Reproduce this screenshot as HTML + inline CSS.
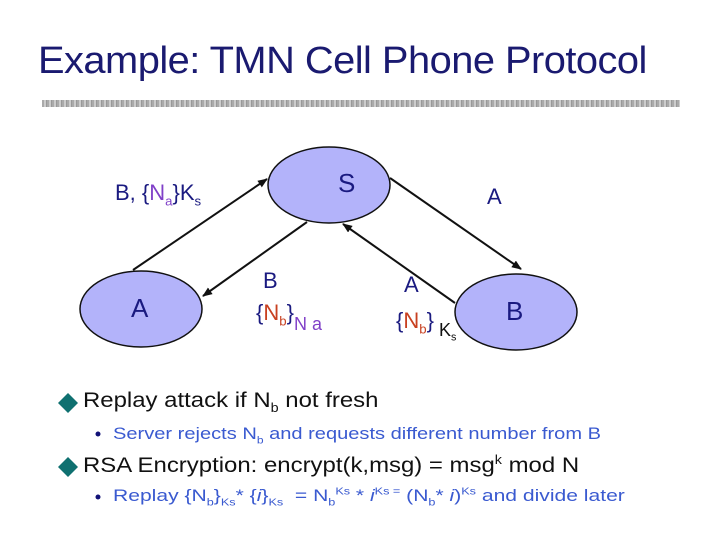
<!DOCTYPE html>
<html><head><meta charset="utf-8"><style>
body{margin:0;width:720px;height:540px;background:#fff;overflow:hidden;position:relative;font-family:"Liberation Sans",sans-serif}
.t{position:absolute;white-space:nowrap;transform-origin:0 0}
sub,sup{font-size:60%}
</style></head><body>
<div class="t" style="left:38px;top:40px;font-size:38px;color:#1a1a70;letter-spacing:-0.5px;transform:scaleX(1.048)">Example: TMN Cell Phone Protocol</div>
<div style="position:absolute;left:42px;top:100px;width:638px;height:7px;background:repeating-linear-gradient(90deg,#aaa 0 2px,#ccc 2px 4px,#999 4px 5px)"></div>
<svg width="720" height="540" style="position:absolute;left:0;top:0">
<defs><marker id="ah" markerWidth="10" markerHeight="8" refX="9" refY="4" orient="auto" markerUnits="userSpaceOnUse"><path d="M0,0 L10,4 L0,8 z" fill="#111"/></marker></defs>
<g fill="#b3b3fa" stroke="#111" stroke-width="1.5">
<ellipse cx="329" cy="185" rx="61" ry="38"/>
<ellipse cx="141" cy="309" rx="61" ry="38"/>
<ellipse cx="516" cy="312" rx="61" ry="38"/>
</g>
<g stroke="#111" stroke-width="2" marker-end="url(#ah)">
<line x1="133" y1="270" x2="267" y2="179"/>
<line x1="307" y1="222" x2="203" y2="296"/>
<line x1="390" y1="178" x2="521" y2="269"/>
<line x1="455" y1="303" x2="343" y2="224"/>
</g>
<path d="M68,393 l10,10 l-10,10 l-10,-10z" fill="#0f7070"/>
<path d="M68,457 l10,10 l-10,10 l-10,-10z" fill="#0f7070"/>
<circle cx="98" cy="434" r="2.5" fill="#117"/>
<circle cx="98" cy="497" r="2.5" fill="#117"/>
</svg>
<div class="t" style="left:338px;top:168px;font-size:26px;color:#1a1a80">S</div>
<div class="t" style="left:131px;top:293px;font-size:26px;color:#1a1a80">A</div>
<div class="t" style="left:506px;top:296px;font-size:26px;color:#1a1a80">B</div>
<div class="t" style="left:115px;top:180px;font-size:22px;color:#1a1a80">B, {<span style="color:#8040c8">N<sub>a</sub></span>}K<sub>s</sub></div>
<div class="t" style="left:487px;top:184px;font-size:22px;color:#1a1a80">A</div>
<div class="t" style="left:263px;top:268px;font-size:22px;color:#1a1a80">B</div>
<div class="t" style="left:256px;top:300px;font-size:22px;color:#1a1a80">{<span style="color:#c84020">N<sub>b</sub></span>}<span style="color:#8040c8;font-size:18px;position:relative;top:10px">N a</span></div>
<div class="t" style="left:404px;top:272px;font-size:22px;color:#1a1a80">A</div>
<div class="t" style="left:396px;top:308px;font-size:22px;color:#1a1a80">{<span style="color:#c84020">N<sub>b</sub></span>}<span style="color:#111;font-size:18px;position:relative;top:8px"> K<sub>s</sub></span></div>
<div class="t" style="left:83px;top:389px;font-size:21px;color:#111;transform:scaleX(1.14)">Replay attack if N<sub>b</sub> not fresh</div>
<div class="t" style="left:113px;top:424px;font-size:17px;color:#3a5ad0;transform:scaleX(1.18)">Server rejects N<sub>b</sub> and requests different number from B</div>
<div class="t" style="left:83px;top:453px;font-size:21px;color:#111;transform:scaleX(1.14)">RSA Encryption: encrypt(k,msg) = msg<sup>k</sup> mod N</div>
<div class="t" style="left:113px;top:486px;font-size:17px;color:#3a5ad0;transform:scaleX(1.24)">Replay {N<sub>b</sub>}<sub>Ks</sub>* {<i>i</i>}<sub>Ks</sub> &nbsp;= N<sub>b</sub><sup>Ks</sup> * <i>i</i><sup>Ks =</sup> (N<sub>b</sub>* <i>i</i>)<sup>Ks</sup> and divide later</div>
</body></html>
